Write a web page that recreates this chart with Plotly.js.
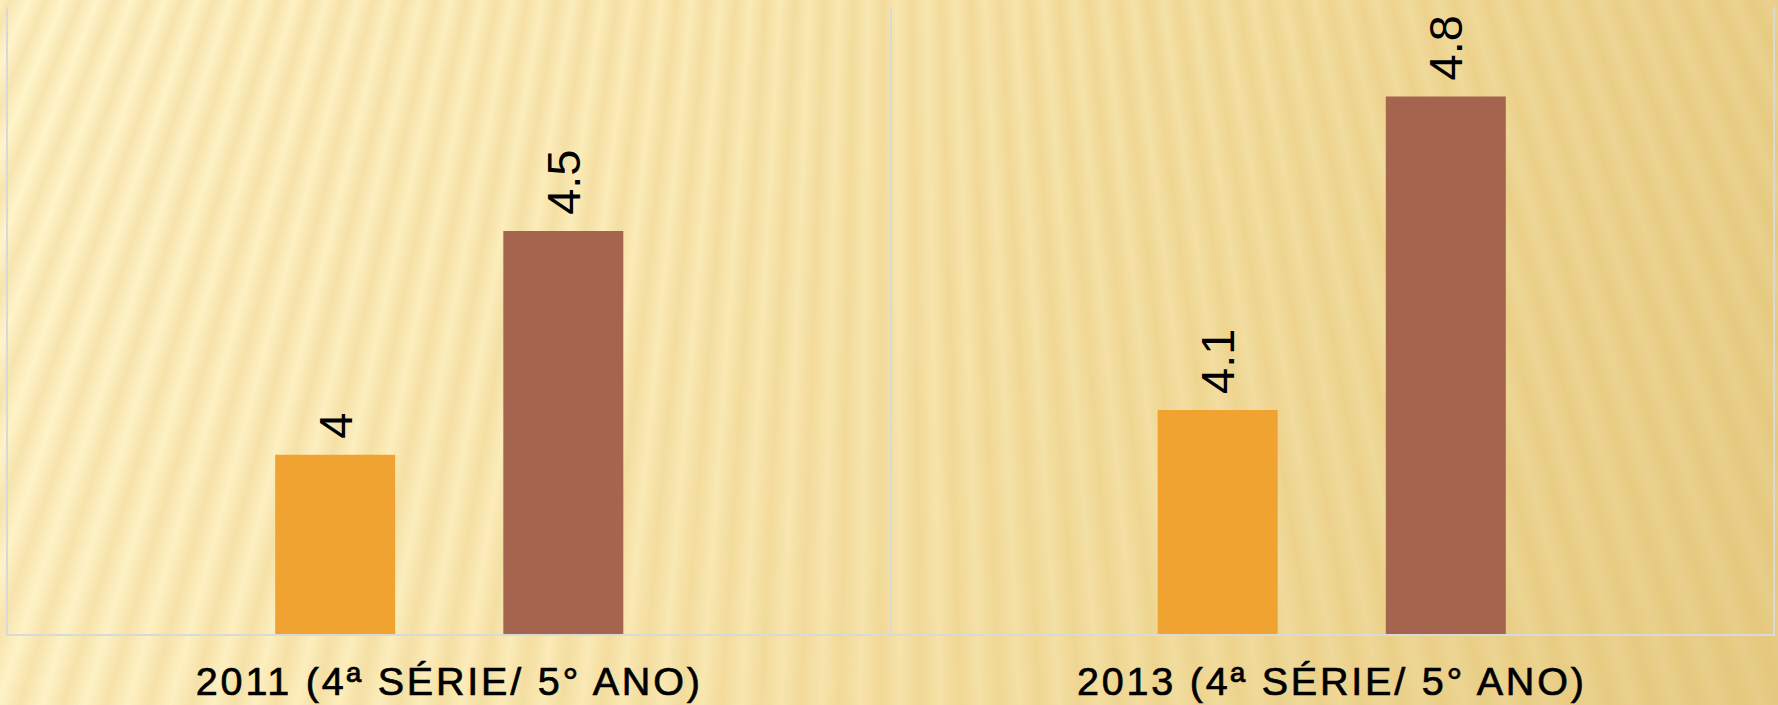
<!DOCTYPE html>
<html>
<head>
<meta charset="utf-8">
<script src="https://cdn.plot.ly/plotly-3.0.1.min.js"></script>
<style>
  html, body { margin: 0; padding: 0; }
  body {
    width: 1778px; height: 705px; overflow: hidden;
    background:
      repeating-conic-gradient(from 0deg at 50% -2000px,
        rgba(225,185,95,0.00) 0deg,
        rgba(225,185,95,0.26) 0.42deg,
        rgba(225,185,95,0.00) 0.84deg),
      linear-gradient(105deg, #FFF5CC 0%, #FBEBB8 35%, #F3DFA2 65%, #E6CC86 100%);
  }
  #chart { width: 1778px; height: 705px; }
  .xtick text { letter-spacing: 2.8px; stroke: #000; stroke-width: 0.7px; }
  .textpoint text { stroke: #000; stroke-width: 0.9px; }
</style>
</head>
<body>
<div id="chart"></div>
<script>
const categories = ["2011 (4\u00aa S\u00c9RIE/ 5\u00b0 ANO)", "2013 (4\u00aa S\u00c9RIE/ 5\u00b0 ANO)"];
const series1Values = [4.0, 4.1];
const series2Values = [4.5, 4.8];
const seriesNames = ["S\u00e9rie 1", "S\u00e9rie 2"];

const labelFont = { family: "Liberation Sans, Arial, sans-serif", size: 47, color: "#000000" };

function barTrace(name, values, color) {
  return {
    type: "bar",
    name: name,
    x: categories,
    y: values,
    marker: { color: color, line: { width: 0 } },
    text: values.map(v => "\u00a0" + v),
    textposition: "outside",
    textangle: -90,
    textfont: labelFont,
    cliponaxis: false,
    hoverinfo: "x+y"
  };
}

const data = [
  barTrace(seriesNames[0], series1Values, "#F0A330"),
  barTrace(seriesNames[1], series2Values, "#A5644E")
];

const layout = {
  width: 1778,
  height: 705,
  margin: { l: 8, r: 5, t: 7, b: 71, pad: 0 },
  paper_bgcolor: "rgba(0,0,0,0)",
  plot_bgcolor: "rgba(0,0,0,0)",
  showlegend: false,
  barmode: "group",
  bargap: 0.483,
  bargroupgap: 0.474,
  xaxis: {
    type: "category",
    tickson: "boundaries",
    showgrid: true,
    gridcolor: "#D9D9D9",
    gridwidth: 2,
    showline: true,
    linecolor: "#D9D9D9",
    linewidth: 2,
    ticks: "",
    ticklabelstandoff: 12,
    tickfont: { family: "Liberation Sans, Arial, sans-serif", size: 39.5, color: "#000000" },
    zeroline: false
  },
  yaxis: {
    range: [3.6, 5.0],
    showgrid: false,
    zeroline: false,
    showticklabels: false,
    ticks: "",
    showline: true,
    mirror: true,
    linecolor: "#D9D9D9",
    linewidth: 2
  }
};

Plotly.newPlot("chart", data, layout, { displayModeBar: false, staticPlot: true });
</script>
</body>
</html>
